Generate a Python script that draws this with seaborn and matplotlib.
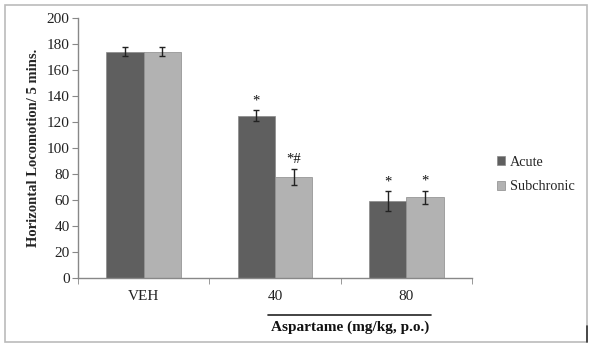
import matplotlib
matplotlib.use("Agg")
import matplotlib.pyplot as plt
import seaborn as sns
import pandas as pd
import numpy as np
from matplotlib.patches import Rectangle
from matplotlib.lines import Line2D
from matplotlib.container import BarContainer

groups = ["VEH", "40", "80"]
acute = [174, 125, 59]
subchronic = [174, 78, 62]
acute_err = [3.6, 4.4, 7.7]
subchronic_err = [3.6, 6.2, 5.2]
acute_marks = ["", "*", "*"]
subchronic_marks = ["", "*#", "*"]
series_names = ["Acute", "Subchronic"]
yticks = [0, 20, 40, 60, 80, 100, 120, 140, 160, 180, 200]

df = pd.DataFrame({
    "group": groups * 2,
    "value": acute + subchronic,
    "series": [series_names[0]] * 3 + [series_names[1]] * 3,
})

sns.set_style("white")
plt.rcParams["font.family"] = ["Liberation Serif", "DejaVu Serif"]

fig = plt.figure(figsize=(6.02, 3.48), dpi=100)
ax = fig.add_axes([78/602, 1-278/348, (472-78)/602, (278-18)/348])

palette = {"Acute": "#5f5f5f", "Subchronic": "#b2b2b2"}
sns.barplot(data=df, x="group", y="value", hue="series", order=groups,
            hue_order=series_names, palette=palette, width=0.57,
            edgecolor="#8a8a8a", linewidth=0.5, saturation=1, ax=ax, errorbar=None)

errs = [acute_err, subchronic_err]
marks = [acute_marks, subchronic_marks]
bar_conts = [c for c in ax.containers if isinstance(c, BarContainer)]
for ci, cont in enumerate(bar_conts):
    for bi, bar in enumerate(cont.patches):
        xc = bar.get_x() + bar.get_width()/2
        h = bar.get_height()
        ax.errorbar(xc, h, yerr=errs[ci][bi], fmt="none", ecolor="#222222",
                    elinewidth=1, capsize=2.5, capthick=1)
        if marks[ci][bi]:
            ax.text(xc, h + errs[ci][bi] + 2, marks[ci][bi], ha="center", va="bottom",
                    fontsize=10.5, color="#111111")

ax.set_ylim(0, 200)
ax.set_xlim(-0.5, 2.5)
ax.set_yticks(yticks)
ax.tick_params(axis="y", labelsize=11, length=4, color="#888888", direction="out",
               left=True, pad=2, labelcolor="#222222")
ax.tick_params(axis="x", which="major", length=0, labelsize=11, pad=9, labelcolor="#222222")
ax.set_xticks([-0.5, 0.5, 1.5, 2.5], minor=True)
ax.tick_params(axis="x", which="minor", length=4, color="#888888", direction="out", bottom=True)
for s in ["top", "right"]:
    ax.spines[s].set_visible(False)
for s in ["left", "bottom"]:
    ax.spines[s].set_color("#888888")
    ax.spines[s].set_linewidth(1)
ax.set_xlabel("")
ax.set_ylabel("Horizontal Locomotion/ 5 mins.", fontsize=10.5, fontweight="bold", labelpad=5)

leg = ax.legend(loc="upper left", bbox_to_anchor=(491/602, 1-150/348), bbox_transform=fig.transFigure,
                frameon=False, fontsize=10.3, handlelength=0.6, handleheight=0.6,
                handletextpad=0.3, labelspacing=0.8, borderaxespad=0)

fig.add_artist(Line2D([268/602, 431/602], [1-315/348, 1-315/348], color="#222222", lw=1.2))
fig.text(350/602, 1-327/348, "Aspartame (mg/kg, p.o.)", ha="center", va="center",
         fontsize=11, fontweight="bold", color="#111111")

fig.add_artist(Rectangle((5/602, 1-342/348), (587-5)/602, (342-5)/348, fill=False,
                         edgecolor="#bbbbbb", lw=1.2, transform=fig.transFigure))
fig.add_artist(Line2D([587/602, 587/602], [1-342/348, 1-326/348], color="#333333", lw=1.2))

fig.savefig("out.png", dpi=100)
